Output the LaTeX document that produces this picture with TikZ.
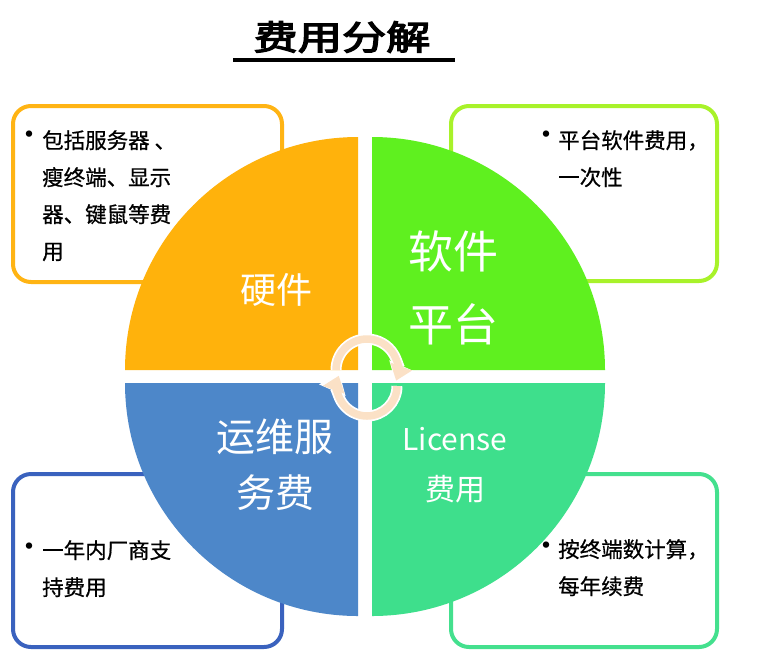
\documentclass[tikz,border=0pt]{standalone}
\usepackage{fontspec}
\setmainfont{Noto Sans CJK SC}
\newfontfamily\titlefont[FakeBold=3.5]{Noto Sans CJK SC}
\newfontfamily\bodyfont[FakeBold=0.6]{Noto Sans CJK SC}
\usetikzlibrary{arrows.meta}
\definecolor{cOrange}{HTML}{FFB20C}
\definecolor{cLime}{HTML}{5FF01F}
\definecolor{cTeal}{HTML}{3EDF8C}
\definecolor{cBlue}{HTML}{4D87C9}
\definecolor{bOrange}{HTML}{FFB414}
\definecolor{bLime}{HTML}{A8F22A}
\definecolor{bTeal}{HTML}{44E08E}
\definecolor{bBlue}{HTML}{3A62BE}
\definecolor{cPeach}{HTML}{FBE1C6}
\begin{document}
\begin{tikzpicture}[x=1pt,y=-1pt,
  infobox/.style={rounded corners=18pt,line width=4pt,fill=white},
  bodytext/.style={anchor=north west,align=left,inner sep=0pt,
    font=\bodyfont\fontsize{21.5}{37}\selectfont,text=black},
  bul/.style={anchor=center,inner sep=0pt,font=\fontsize{30}{30}\selectfont},
  qlabel/.style={text=white,align=center,inner sep=0pt}]
\useasboundingbox (0,0) rectangle (765,665);
\fill[white] (0,0) rectangle (765,665);
% title
\node[qlabel,text=black,font=\titlefont\fontsize{34}{40}\selectfont,xscale=1.3] (title) at (342,37) {费用分解};
\draw[line width=4.5pt] (233,60) -- (455,60);
% boxes
\draw[infobox,draw=bOrange] (13,106) rectangle (282,282);
\draw[infobox,draw=bLime] (451,106) rectangle (717,281);
\draw[infobox,draw=bBlue] (13,474) rectangle (282,647);
\draw[infobox,draw=bTeal] (451,474) rectangle (717,647);
% box texts
\node[bul] (b1) at (29,138) {•};
\node[bodytext] (t1) at (42,130) {包括服务器 、\\瘦终端、显示\\器、键鼠等费\\用};
\node[bul] (b2) at (546,138) {•};
\node[bodytext] (t2) at (558,130) {平台软件费用，\\一次性};
\node[bul] (b3) at (29,550) {•};
\node[bodytext] (t3) at (42,540) {一年内厂商支\\持费用};
\node[bul] (b4) at (546,549) {•};
\node[bodytext] (t4) at (558,539) {按终端数计算，\\每年续费};
% quadrants
\fill[cOrange] (358,370) -- ++(-233,0) arc[start angle=180,end angle=270,radius=233] -- cycle;
\fill[cLime] (372,370) -- ++(0,-233) arc[start angle=270,end angle=360,radius=233] -- cycle;
\fill[cBlue] (358,383) -- ++(-233,0) arc[start angle=180,end angle=90,radius=233] -- cycle;
\fill[cTeal] (372,383) -- ++(233,0) arc[start angle=0,end angle=90,radius=233] -- cycle;
% labels
\node[qlabel,font=\fontsize{36}{40}\selectfont] (hw) at (276,290) {硬件};
\node[qlabel,font=\fontsize{45}{73}\selectfont] (sw) at (453,288) {软件\\平台};
\node[qlabel,font=\fontsize{39}{56}\selectfont] (ops) at (275,465) {运维服\\务费};
\node[qlabel,font=\fontsize{30}{50}\selectfont] (lic) at (455,465) {License\\费用};
% circular arrows
\draw[white,line width=11pt,-{Triangle[length=18pt,width=28pt]}]
  (367,370) ++(180:31) arc[start angle=180,end angle=384,radius=31];
\draw[cPeach,line width=7.5pt,-{Triangle[length=15pt,width=22pt]}]
  (367,370) ++(180:31) arc[start angle=180,end angle=380,radius=31];
\draw[white,line width=11pt,-{Triangle[length=18pt,width=28pt]}]
  (367,386) ++(0:30) arc[start angle=0,end angle=204,radius=30];
\draw[cPeach,line width=7.5pt,-{Triangle[length=15pt,width=22pt]}]
  (367,386) ++(0:30) arc[start angle=0,end angle=200,radius=30];
\end{tikzpicture}
\end{document}
